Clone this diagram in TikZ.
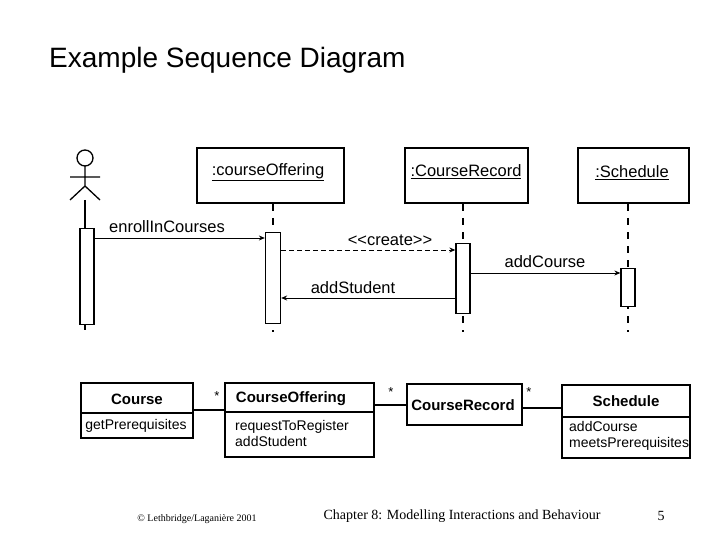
\documentclass[tikz,border=0pt]{standalone}
\usepackage{fontspec}
\setmainfont{Liberation Sans}
\newfontfamily\seriffont{Liberation Serif}
\usetikzlibrary{arrows.meta}
\begin{document}
\begin{tikzpicture}[x=1pt,y=-1pt,
  obj/.style={draw,line width=1.2pt,inner sep=0pt},
  act/.style={draw,line width=1.3pt,fill=white},
  life/.style={line width=1.3pt,dash pattern=on 7pt off 7pt},
  msg/.style={line width=1pt,-{Stealth[length=6pt,width=5pt]}},
  lbl/.style={font=\fontsize{16.5}{18}\selectfont,inner sep=0pt},
  cb/.style={font=\bfseries\fontsize{15}{17}\selectfont,inner sep=0pt},
  cn/.style={font=\fontsize{14}{16.5}\selectfont,inner sep=0pt},
  cls/.style={draw,line width=1.3pt},
  assoc/.style={line width=1.3pt}]
\useasboundingbox (0,0) rectangle (720,540);
\node[anchor=west,inner sep=0pt,font=\fontsize{28}{32}\selectfont] (title) at (49,60) {Example Sequence Diagram};
% actor
\draw[line width=1.3pt] (85,158) circle (8);
\draw[line width=1.3pt] (85,166) -- (85,186) (70,177) -- (100,177) (70,200) -- (85,186) -- (100,200);
\draw[line width=1.3pt] (85,200) -- (85,330);
\node[act,minimum width=14pt,minimum height=96pt,anchor=north] (a0) at (87,228) {};
% objects
\draw[obj] (197,148) rectangle (344,203);
\node[lbl] (o1) at (268,172) {\underline{:courseOffering}};
\draw[obj] (405,148) rectangle (528,203);
\node[lbl] (o2) at (466,172) {\underline{:CourseRecord}};
\draw[obj] (578,148) rectangle (689,203);
\node[lbl] (o3) at (632,173) {\underline{:Schedule}};
\draw[life] (273,204) -- (273,332);
\draw[life] (463,204) -- (463,332);
\draw[life] (628,204) -- (628,332);
\node[act,minimum width=15pt,minimum height=91pt,anchor=north] (a1) at (273,232) {};
\node[act,minimum width=14pt,minimum height=70pt,anchor=north] (a2) at (463,243) {};
\node[act,minimum width=14pt,minimum height=38pt,anchor=north] (a3) at (628,268) {};
% messages
\draw[msg] (a0.east |- 0,238) -- (a1.west |- 0,238);
\node[lbl] (m1) at (167,227) {enrollInCourses};
\draw[msg,dash pattern=on 5pt off 3pt] (a1.east |- 0,250) -- (a2.west |- 0,250);
\node[lbl] (m2) at (390,240) {<{}<create>{}>};
\draw[msg] (a2.east |- 0,273) -- (a3.west |- 0,273);
\node[lbl] (m3) at (545,262) {addCourse};
\draw[msg] (a2.west |- 0,298) -- (a1.east |- 0,298);
\node[lbl] (m4) at (353,288) {addStudent};
% class diagram
\draw[cls] (81,383) rectangle (193,438); \draw[cls] (81,413) -- (193,413);
\node[cb] (c1) at (137,399) {Course};
\node[cn] (c1a) at (136,426) {getPrerequisites};
\draw[cls] (225,383) rectangle (374,457); \draw[cls] (225,412) -- (374,412);
\node[cb] (c2) at (291,399) {CourseOffering};
\node[cn,align=left,anchor=north west] (c2a) at (235,420) {requestToRegister\\addStudent};
\draw[cls] (407,384) rectangle (522,425);
\node[cb] (c3) at (463,405) {CourseRecord};
\draw[cls] (562,385) rectangle (690,458); \draw[cls] (562,417) -- (690,417);
\node[cb] (c4) at (626,401) {Schedule};
\node[cn,align=left,anchor=north west] (c4a) at (569,421) {addCourse\\meetsPrerequisites};
\draw[assoc] (193,410) -- (225,410);
\draw[assoc] (374,405) -- (407,405);
\draw[assoc] (522,408) -- (562,408);
\node[font=\fontsize{13}{14}\selectfont] (s1) at (217,396) {*};
\node[font=\fontsize{13}{14}\selectfont] (s2) at (391,392) {*};
\node[font=\fontsize{13}{14}\selectfont] (s3) at (529,392) {*};
% footer
\node[font=\seriffont\fontsize{10}{12}\selectfont] (f1) at (197,519) {\textcopyright{} Lethbridge/Lagani\`ere 2001};
\node[font=\seriffont\fontsize{14}{16}\selectfont] (f2) at (462,516) {Chapter 8: Modelling Interactions and Behaviour};
\node[font=\seriffont\fontsize{14}{16}\selectfont] (f3) at (661,516) {5};
\end{tikzpicture}
\end{document}
